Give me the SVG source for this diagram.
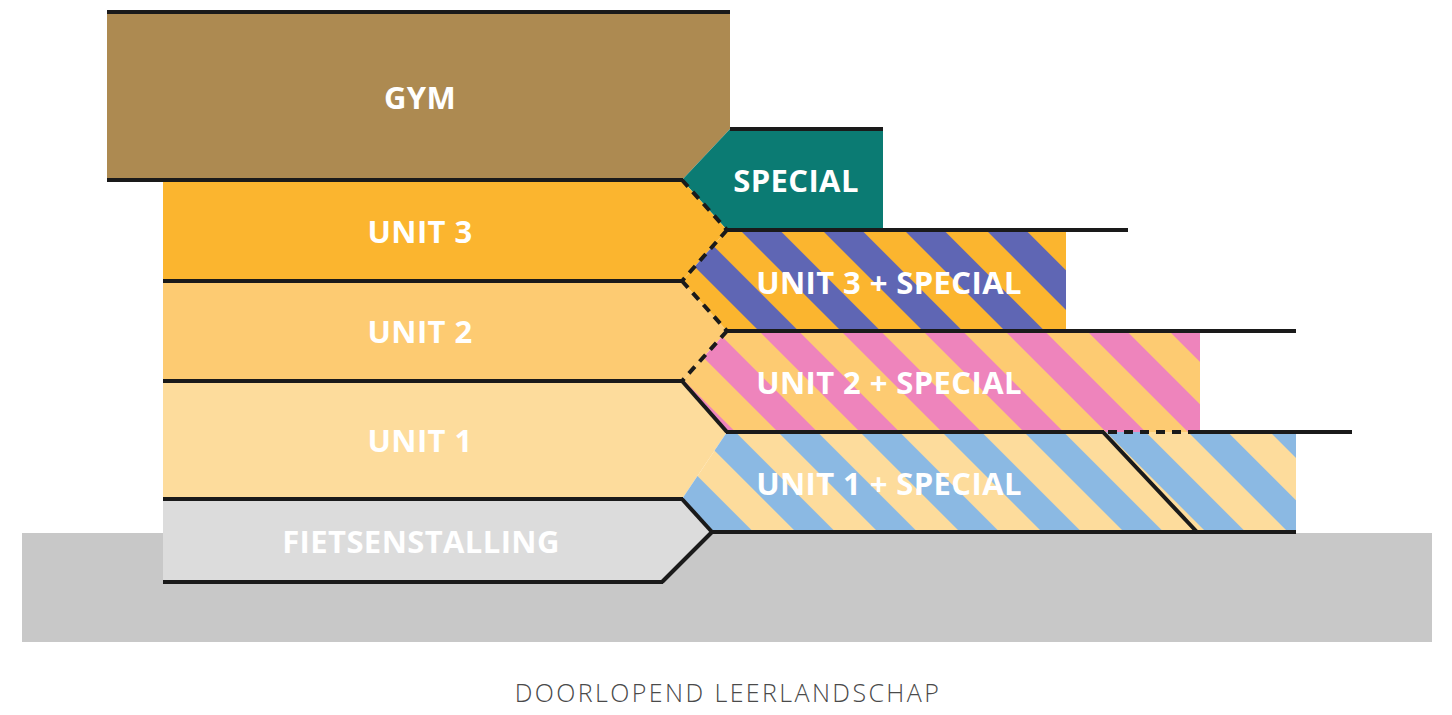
<svg xmlns="http://www.w3.org/2000/svg" width="1452" height="715" viewBox="0 0 1452 715">
<style>
.lbl{font-family:"Open Sans","Liberation Sans",sans-serif;font-weight:700;font-size:31px;fill:#ffffff;text-anchor:middle;letter-spacing:0.4px}
.cap{font-family:"Open Sans","Liberation Sans",sans-serif;font-weight:300;font-size:25px;fill:#4a4a4a;text-anchor:middle;letter-spacing:2.4px}
.ln{stroke:#1a1a1a;stroke-width:4;fill:none;stroke-linecap:butt}
.dash{stroke:#1a1a1a;stroke-width:4;fill:none;stroke-dasharray:9 7}
</style>
<defs>
<pattern id="p3" patternUnits="userSpaceOnUse" width="58" height="58" x="12.6" patternTransform="rotate(-45)">
<rect width="58" height="58" fill="#FBB52F"/><rect width="28" height="58" fill="#5F66B4"/>
</pattern>
<pattern id="p2" patternUnits="userSpaceOnUse" width="58" height="58" x="12.6" patternTransform="rotate(-45)">
<rect width="58" height="58" fill="#FDCB72"/><rect width="28" height="58" fill="#EE84BC"/>
</pattern>
<pattern id="p1" patternUnits="userSpaceOnUse" width="58" height="58" x="12.6" patternTransform="rotate(-45)">
<rect width="58" height="58" fill="#FDDC9C"/><rect width="28" height="58" fill="#8BB9E3"/>
</pattern>
</defs>
<rect width="1452" height="715" fill="#ffffff"/>
<g id="ground"><rect x="22" y="533" width="1410" height="109" fill="#C8C8C8"/></g>
<g id="gym"><polygon points="107,12 730,12 730,129 682,180 107,180" fill="#AD8A51"/><text class="lbl" x="420" y="109">GYM</text></g>
<g id="special"><polygon points="730,129 883,129 883,230 727,230 682,180" fill="#0B7B73"/><text class="lbl" x="796" y="192">SPECIAL</text></g>
<g id="unit3"><polygon points="163,180 682,180 727,230 682,281 163,281" fill="#FBB52F"/><text class="lbl" x="420" y="243">UNIT 3</text></g>
<g id="unit2"><polygon points="163,281 682,281 727,331 682,381 163,381" fill="#FDCB72"/><text class="lbl" x="420" y="343">UNIT 2</text></g>
<g id="unit1"><polygon points="163,381 682,381 727,432 682,499 163,499" fill="#FDDC9C"/><text class="lbl" x="420" y="452">UNIT 1</text></g>
<g id="fietsenstalling"><polygon points="163,499 682,499 712,532 662,582 163,582" fill="#DCDCDC"/><text class="lbl" x="421" y="553">FIETSENSTALLING</text></g>
<g id="unit3special"><polygon points="727,230 1066,230 1066,331 727,331 682,281" fill="url(#p3)"/><text class="lbl" x="889" y="294">UNIT 3 + SPECIAL</text></g>
<g id="unit2special"><polygon points="727,331 1200,331 1200,432 727,432 682,381" fill="url(#p2)"/><text class="lbl" x="889" y="394">UNIT 2 + SPECIAL</text></g>
<g id="unit1special"><polygon points="727,432 1296,432 1296,532 712,532 682,499" fill="url(#p1)"/><text class="lbl" x="889" y="495">UNIT 1 + SPECIAL</text></g>
<g id="connectors">
<line class="ln" x1="107" y1="12" x2="730" y2="12"/>
<line class="ln" x1="107" y1="180" x2="683" y2="180"/>
<line class="ln" x1="730" y1="129" x2="883" y2="129"/>
<line class="ln" x1="726" y1="230" x2="1128" y2="230"/>
<line class="ln" x1="163" y1="281" x2="683" y2="281"/>
<line class="ln" x1="726" y1="331" x2="1296" y2="331"/>
<line class="ln" x1="163" y1="381" x2="683" y2="381"/>
<line class="ln" x1="726" y1="432" x2="1104" y2="432"/>
<line class="dash" x1="1108" y1="432" x2="1196" y2="432"/>
<line class="ln" x1="1196" y1="432" x2="1352" y2="432"/>
<line class="ln" x1="163" y1="499" x2="683" y2="499"/>
<line class="ln" x1="711" y1="532" x2="1296" y2="532"/>
<line class="ln" x1="163" y1="582" x2="663" y2="582"/>
<line class="dash" x1="682" y1="180" x2="727" y2="230"/>
<line class="dash" x1="727" y1="230" x2="682" y2="281"/>
<line class="dash" x1="682" y1="281" x2="727" y2="331"/>
<line class="dash" x1="727" y1="331" x2="682" y2="381"/>
<line class="ln" x1="682" y1="381" x2="727" y2="432"/>
<line class="ln" x1="682" y1="499" x2="712" y2="532"/>
<line class="ln" x1="712" y1="532" x2="662" y2="582"/>
<line class="ln" x1="1103" y1="432" x2="1197" y2="532"/>
</g>
<text class="cap" x="728" y="702">DOORLOPEND LEERLANDSCHAP</text>
</svg>
